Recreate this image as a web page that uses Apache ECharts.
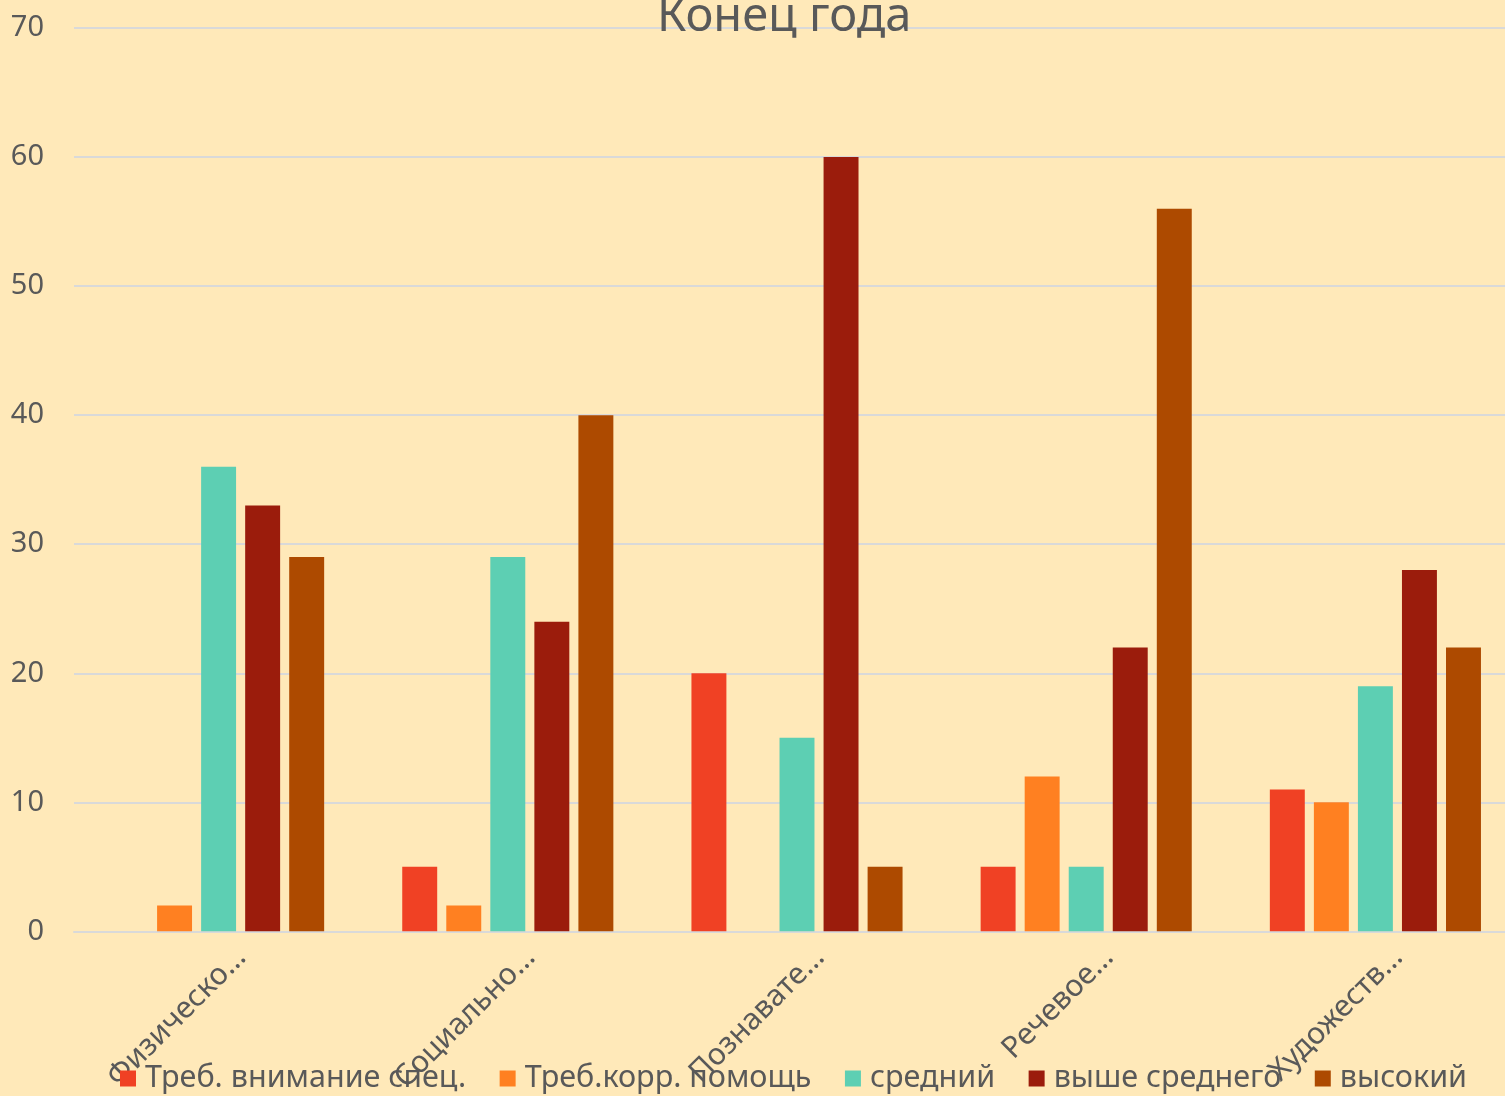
<!DOCTYPE html>
<html><head><meta charset="utf-8">
<script src="https://cdn.jsdelivr.net/npm/echarts@6/dist/echarts.min.js"></script>
<style>html,body{margin:0;padding:0;background:#FFE9B9;overflow:hidden;width:1505px;height:1096px;}#c{width:1520px;height:1096px;}</style>
</head><body><div id="c"></div>
<script>
const categories = ["Физическо…", "Социально…", "Познавате…", "Речевое…", "Художеств…"];
const seriesNames = ["Треб. внимание спец.", "Треб.корр. помощь", "средний", "выше среднего", "высокий"];
const s1 = [0, 5, 20, 5, 11];
const s2 = [2, 2, 0, 12, 10];
const s3 = [36, 29, 15, 5, 19];
const s4 = [33, 24, 60, 22, 28];
const s5 = [29, 40, 5, 56, 22];
const colors = ["#F04124", "#FF8021", "#5DCFB3", "#9B1C0C", "#AD4A00"];
const yTicks = [0, 10, 20, 30, 40, 50, 60, 70];

const font = "Noto Sans";
const chart = echarts.init(document.getElementById('c'));
const data = [s1, s2, s3, s4, s5];
chart.setOption({
  backgroundColor: "#FFE9B9",
  color: colors,
  title: {text: "Конец года", left: 652, top: -11,
    textStyle: {fontFamily: font, fontSize: 47, fontWeight: "normal", color: "#595959"}},
  legend: {bottom: -3, left: 115, itemWidth: 16, itemHeight: 16, itemGap: 33.5, icon: "rect",
    textStyle: {fontFamily: font, fontSize: 30.5, color: "#595959", padding: [0, 0, 0, 4]},
    data: seriesNames},
  grid: {left: 74, right: 0, top: 28, bottom: 163, containLabel: false},
  xAxis: {type: "category", data: categories,
    axisLine: {lineStyle: {color: "#D9D9D9", width: 2}},
    axisTick: {show: false},
    axisLabel: {rotate: 45, fontFamily: font, fontSize: 30, color: "#595959", margin: 44, interval: 0,
      padding: [0, -32, 0, 0]}},
  yAxis: {type: "value", min: 0, max: 70, interval: 10,
    axisLine: {show: false}, axisTick: {show: false},
    splitLine: {lineStyle: {color: "#D9D9D9", width: 2}},
    axisLabel: {fontFamily: font, fontSize: 29, color: "#595959", margin: 30,
      formatter: v => yTicks.includes(v) ? String(v) : ""}},
  series: seriesNames.map((n, i) => ({
    name: n, type: "bar", data: data[i], barGap: "26%", barCategoryGap: "27%",
    itemStyle: {color: colors[i]}
  }))
});
</script></body></html>
